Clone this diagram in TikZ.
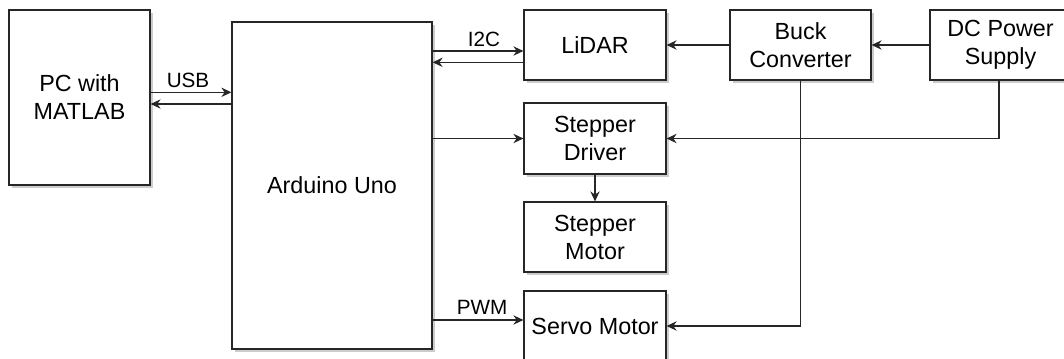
\documentclass[tikz,border=0pt]{standalone}
\usepackage{fontspec}
\setmainfont{Liberation Sans}
\usepackage{tikz}
\usetikzlibrary{arrows.meta}
\usetikzlibrary{shadows}

\begin{document}
\begin{tikzpicture}[x=0.75pt,y=-0.75pt,
  box/.style={draw=black!85,line width=0.9pt,fill=white,align=center,inner sep=0pt,
    font=\fontsize{17.5}{21}\selectfont,
    drop shadow={shadow xshift=2.2pt,shadow yshift=-2.2pt,fill=black,opacity=0.2}},
  conn/.style={draw=black!85,line width=0.9pt,-{Stealth[length=7.5pt,width=7pt]}},
  lbl/.style={font=\fontsize{15.5}{18}\selectfont,inner sep=0pt}]
  \useasboundingbox (0,0) rectangle (1064,358);
  % blocks (sizes in px, 1px = 0.75pt)
  \node[box,minimum width=141*0.75pt,minimum height=175*0.75pt] (pc) at (79.5,97.5) {PC with\\MATLAB};
  \node[box,minimum width=200*0.75pt,minimum height=327*0.75pt] (ard) at (332,185.5) {Arduino Uno};
  \node[box,minimum width=142*0.75pt,minimum height=70*0.75pt] (lidar) at (595,45) {LiDAR};
  \node[box,minimum width=141*0.75pt,minimum height=70*0.75pt] (buck) at (800.5,45) {Buck\\Converter};
  \node[box,minimum width=141*0.75pt,minimum height=70*0.75pt] (dc) at (1000.5,45) {DC Power\\Supply};
  \node[box,minimum width=142*0.75pt,minimum height=71*0.75pt] (drv) at (595,138.5) {Stepper\\Driver};
  \node[box,minimum width=142*0.75pt,minimum height=70*0.75pt] (mot) at (595,237) {Stepper\\Motor};
  \node[box,minimum width=142*0.75pt,minimum height=70*0.75pt] (servo) at (595,326) {Servo Motor};
  % data links
  \draw[conn] (pc.east |- 0,92.3) -- (ard.west |- 0,92.3);
  \draw[conn] (ard.west |- 0,104) -- (pc.east |- 0,104);
  \node[lbl] (usb) at (188,80) {USB};
  \draw[conn] (ard.east |- 0,51) -- (lidar.west |- 0,51);
  \draw[conn] (lidar.west |- 0,62.3) -- (ard.east |- 0,62.3);
  \node[lbl] (i2c) at (484,39) {I2C};
  \draw[conn] (ard.east |- drv.west) -- (drv.west);
  \draw[conn] (drv.south) -- (mot.north);
  \draw[conn] (ard.east |- 0,320) -- (servo.west |- 0,320);
  \node[lbl] (pwm) at (482,307) {PWM};
  % power
  \draw[conn] (dc.west) -- (buck.east);
  \draw[conn] (buck.west) -- (lidar.east);
  \draw[conn] (dc.south -| 999,0) |- (drv.east);
  \draw[conn] (buck.south) |- (servo.east);
\end{tikzpicture}
\end{document}
